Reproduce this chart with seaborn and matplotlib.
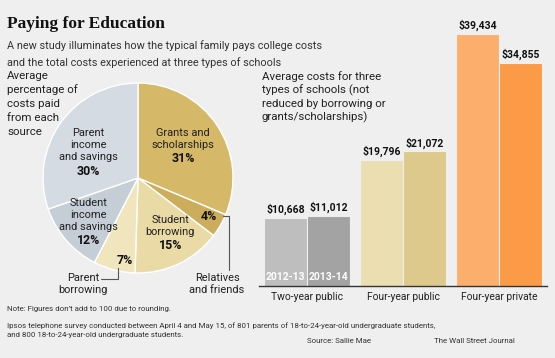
import numpy as np
import pandas as pd
import matplotlib
matplotlib.use("Agg")
import matplotlib.pyplot as plt
import seaborn as sns
from matplotlib.lines import Line2D
from matplotlib import font_manager

# ---------------- data ----------------
pie_sources = ["Grants and\nscholarships", "Relatives\nand friends", "Student\nborrowing",
               "Parent\nborrowing", "Student\nincome\nand savings", "Parent\nincome\nand savings"]
pie_values = [31, 4, 15, 7, 12, 30]

schools = ["Two-year public", "Four-year public", "Four-year private"]
years = ["2012-13", "2013-14"]
costs_2012_13 = [10668, 19796, 39434]
costs_2013_14 = [11012, 21072, 34855]

# ---------------- style ----------------
BG = "#efefef"
sns.set_theme(style="white")
available = {f.name for f in font_manager.fontManager.ttflist}
SANS = "Liberation Sans Narrow" if "Liberation Sans Narrow" in available else "Roboto"
plt.rcParams["font.family"] = [SANS, "DejaVu Sans"]
plt.rcParams["figure.facecolor"] = BG
plt.rcParams["axes.facecolor"] = BG

W, H = 555, 358
fig = plt.figure(figsize=(W / 100, H / 100), dpi=100)
fig.patch.set_facecolor(BG)
renderer = fig.canvas.get_renderer()


def fx(px):
    return px / W


def fy(py):
    return 1 - py / H


GROW = 1.06  # reference face is condensed; trade a little width for height


def fit_size(sample, target_px, grow=GROW, **kw):
    t = fig.text(0, 0, sample, size=10, **kw)
    w = t.get_window_extent(renderer=renderer).width
    t.remove()
    return 10 * target_px / w * grow


TXT = "#222222"
SERIF = ["Liberation Serif", "DejaVu Serif"]

S_TITLE = fit_size("Paying for Education", 152, grow=1.04, family=SERIF, weight="bold")
S_SUB = fit_size("A new study illuminates how the typical family pays college costs", 298)
S_BODY = fit_size("percentage of", 67)
S_PIE = fit_size("scholarships", 59)
S_PCT = fit_size("31%", 22, weight="bold")
S_CAT = fit_size("Two-year public", 68)
S_VAL = fit_size("$10,668", 36, weight="bold")
S_YEAR = fit_size("2012-13", 38, grow=1.03, weight="bold")
S_FOOT = fit_size("Ipsos telephone survey conducted between April 4 and May 15, of 801 parents of "
                  "18-to-24-year-old undergraduate students,", 415, grow=1.04)


def lines_at(x, y0, pitch, text, **kw):
    for k, line in enumerate(text.split("\n")):
        fig.text(fx(x), fy(y0 + k * pitch), line, va="center", **kw)


# ---------------- titles ----------------
fig.text(fx(7), fy(28), "Paying for Education", family=SERIF,
         weight="bold", size=S_TITLE, color="#111111", va="baseline")
fig.text(fx(7), fy(49), "A new study illuminates how the typical family pays college costs",
         size=S_SUB, color="#333333", va="baseline")
fig.text(fx(7), fy(66), "and the total costs experienced at three types of schools",
         size=S_SUB, color="#333333", va="baseline")

# ---------------- pie ----------------
cx, cy, R = 138, 178, 95
ax_pie = fig.add_axes([fx(cx - R), fy(cy + R), 2 * R / W, 2 * R / H])
pie_colors = ["#d5b868", "#ccad5c", "#eadba6", "#f1e5bd", "#c5cdd7", "#d4dbe3"]
wedges, _ = ax_pie.pie(pie_values, colors=pie_colors, startangle=90, counterclock=False,
                       wedgeprops=dict(edgecolor="white", linewidth=1.0))
ax_pie.set_xlim(-1, 1)
ax_pie.set_ylim(-1, 1)
ax_pie.set_aspect("equal")
ax_pie.axis("off")

PITCH = 12 / R
label_r = [0.59, 0.85, 0.66, 0.88, 0.69, 0.59]
label_dang = [2.6, 1.2, 5.4, 5.6, -0.2, 7.1]
for i, (w, name, val) in enumerate(zip(wedges, pie_sources, pie_values)):
    mid = np.deg2rad((w.theta1 + w.theta2) / 2 + label_dang[i])
    x, y = label_r[i] * np.cos(mid), label_r[i] * np.sin(mid)
    pct = f"{val}%"
    if i in (1, 3):
        ax_pie.text(x, y, pct, ha="center", va="center", size=S_PCT, weight="bold",
                    color="#111111")
        continue
    rows = name.split("\n")
    n = len(rows) + 1
    for k, row in enumerate(rows):
        ax_pie.text(x, y + ((n - 1) / 2 - k) * PITCH, row, ha="center", va="center",
                    size=S_PIE, color=TXT)
    ax_pie.text(x, y - (n - 1) / 2 * PITCH - 0.02, pct, ha="center", va="center",
                size=S_PCT, weight="bold", color="#111111")


def pdx(px):
    return (px - cx) / R


def pdy(py):
    return (cy - py) / R


for k, row in enumerate(pie_sources[3].split("\n")):
    ax_pie.text(pdx(83), pdy(278 + 12 * k), row, ha="center", va="center", size=S_PIE,
                color=TXT, clip_on=False)
ax_pie.add_line(Line2D([pdx(101), pdx(118), pdx(118)], [pdy(279), pdy(279), pdy(268)],
                       color="#555555", lw=0.8, clip_on=False))
for k, row in enumerate(pie_sources[1].split("\n")):
    ax_pie.text(pdx(217), pdy(278 + 12 * k), row, ha="center", va="center", size=S_PIE,
                color=TXT, clip_on=False)
ax_pie.add_line(Line2D([pdx(223), pdx(229), pdx(229)], [pdy(216), pdy(216), pdy(270)],
                       color="#555555", lw=0.8, clip_on=False))

lines_at(7, 76, 14, "Average\npercentage of\ncosts paid\nfrom each\nsource", size=S_BODY,
         color=TXT, ha="left")

# ---------------- bars ----------------
df = pd.DataFrame({
    "school": schools * 2,
    "year": [years[0]] * 3 + [years[1]] * 3,
    "cost": costs_2012_13 + costs_2013_14,
})
ax_bar = fig.add_axes([fx(259), fy(286), (547 - 259) / W, (286 - 30.4) / H])
sns.barplot(data=df, x="school", y="cost", hue="year", order=schools, hue_order=years,
            width=0.9, ax=ax_bar, legend=False, errorbar=None, saturation=1)
bar_colors = {
    years[0]: ["#bebebe", "#ebdfb2", "#fcaf6c"],
    years[1]: ["#a3a3a3", "#dcc98b", "#fb9a47"],
}
for k, cont in enumerate(ax_bar.containers):
    yr = years[k]
    for j, p in enumerate(cont.patches):
        p.set_facecolor(bar_colors[yr][j])
        p.set_edgecolor(BG)
        p.set_linewidth(0.8)
    ax_bar.bar_label(cont, labels=[f"${v:,.0f}" for v in cont.datavalues], padding=2,
                     size=S_VAL, weight="bold", color="#111111")
    p0 = cont.patches[0]
    ax_bar.annotate(yr, xy=(p0.get_x() + p0.get_width() / 2, 0), xytext=(0, 3),
                    textcoords="offset points", ha="center", va="bottom", size=S_YEAR,
                    weight="bold", color="white")

ax_bar.set_xlim(-0.5, 2.5)
ax_bar.set_ylim(0, 40000)
ax_bar.set_xlabel("")
ax_bar.set_ylabel("")
ax_bar.set_yticks([])
ax_bar.tick_params(axis="x", length=0, pad=4, labelsize=S_CAT, labelcolor=TXT)
for s in ["top", "right", "left"]:
    ax_bar.spines[s].set_visible(False)
ax_bar.spines["bottom"].set_color("#333333")
ax_bar.spines["bottom"].set_linewidth(1.0)
ax_bar.set_facecolor("none")

lines_at(262, 77, 13.5,
         "Average costs for three\ntypes of schools (not\nreduced by borrowing or\ngrants/scholarships)",
         size=S_BODY, color=TXT, ha="left")

# ---------------- footer ----------------
fig.text(fx(7), fy(311), "Note: Figures don\u2019t add to 100 due to rounding.", size=S_FOOT,
         color="#333333", va="baseline")
fig.text(fx(7), fy(328),
         "Ipsos telephone survey conducted between April 4 and May 15, of 801 parents of 18-to-24-year-old undergraduate students,",
         size=S_FOOT, color="#333333", va="baseline")
fig.text(fx(7), fy(337), "and 800 18-to-24-year-old undergraduate students.", size=S_FOOT,
         color="#333333", va="baseline")
fig.text(fx(307), fy(343), "Source: Sallie Mae", size=S_FOOT, color="#333333", va="baseline")
fig.text(fx(515), fy(343), "The Wall Street Journal", size=S_FOOT, color="#333333",
         va="baseline", ha="right")

fig.savefig("out.png", dpi=100, facecolor=BG)
